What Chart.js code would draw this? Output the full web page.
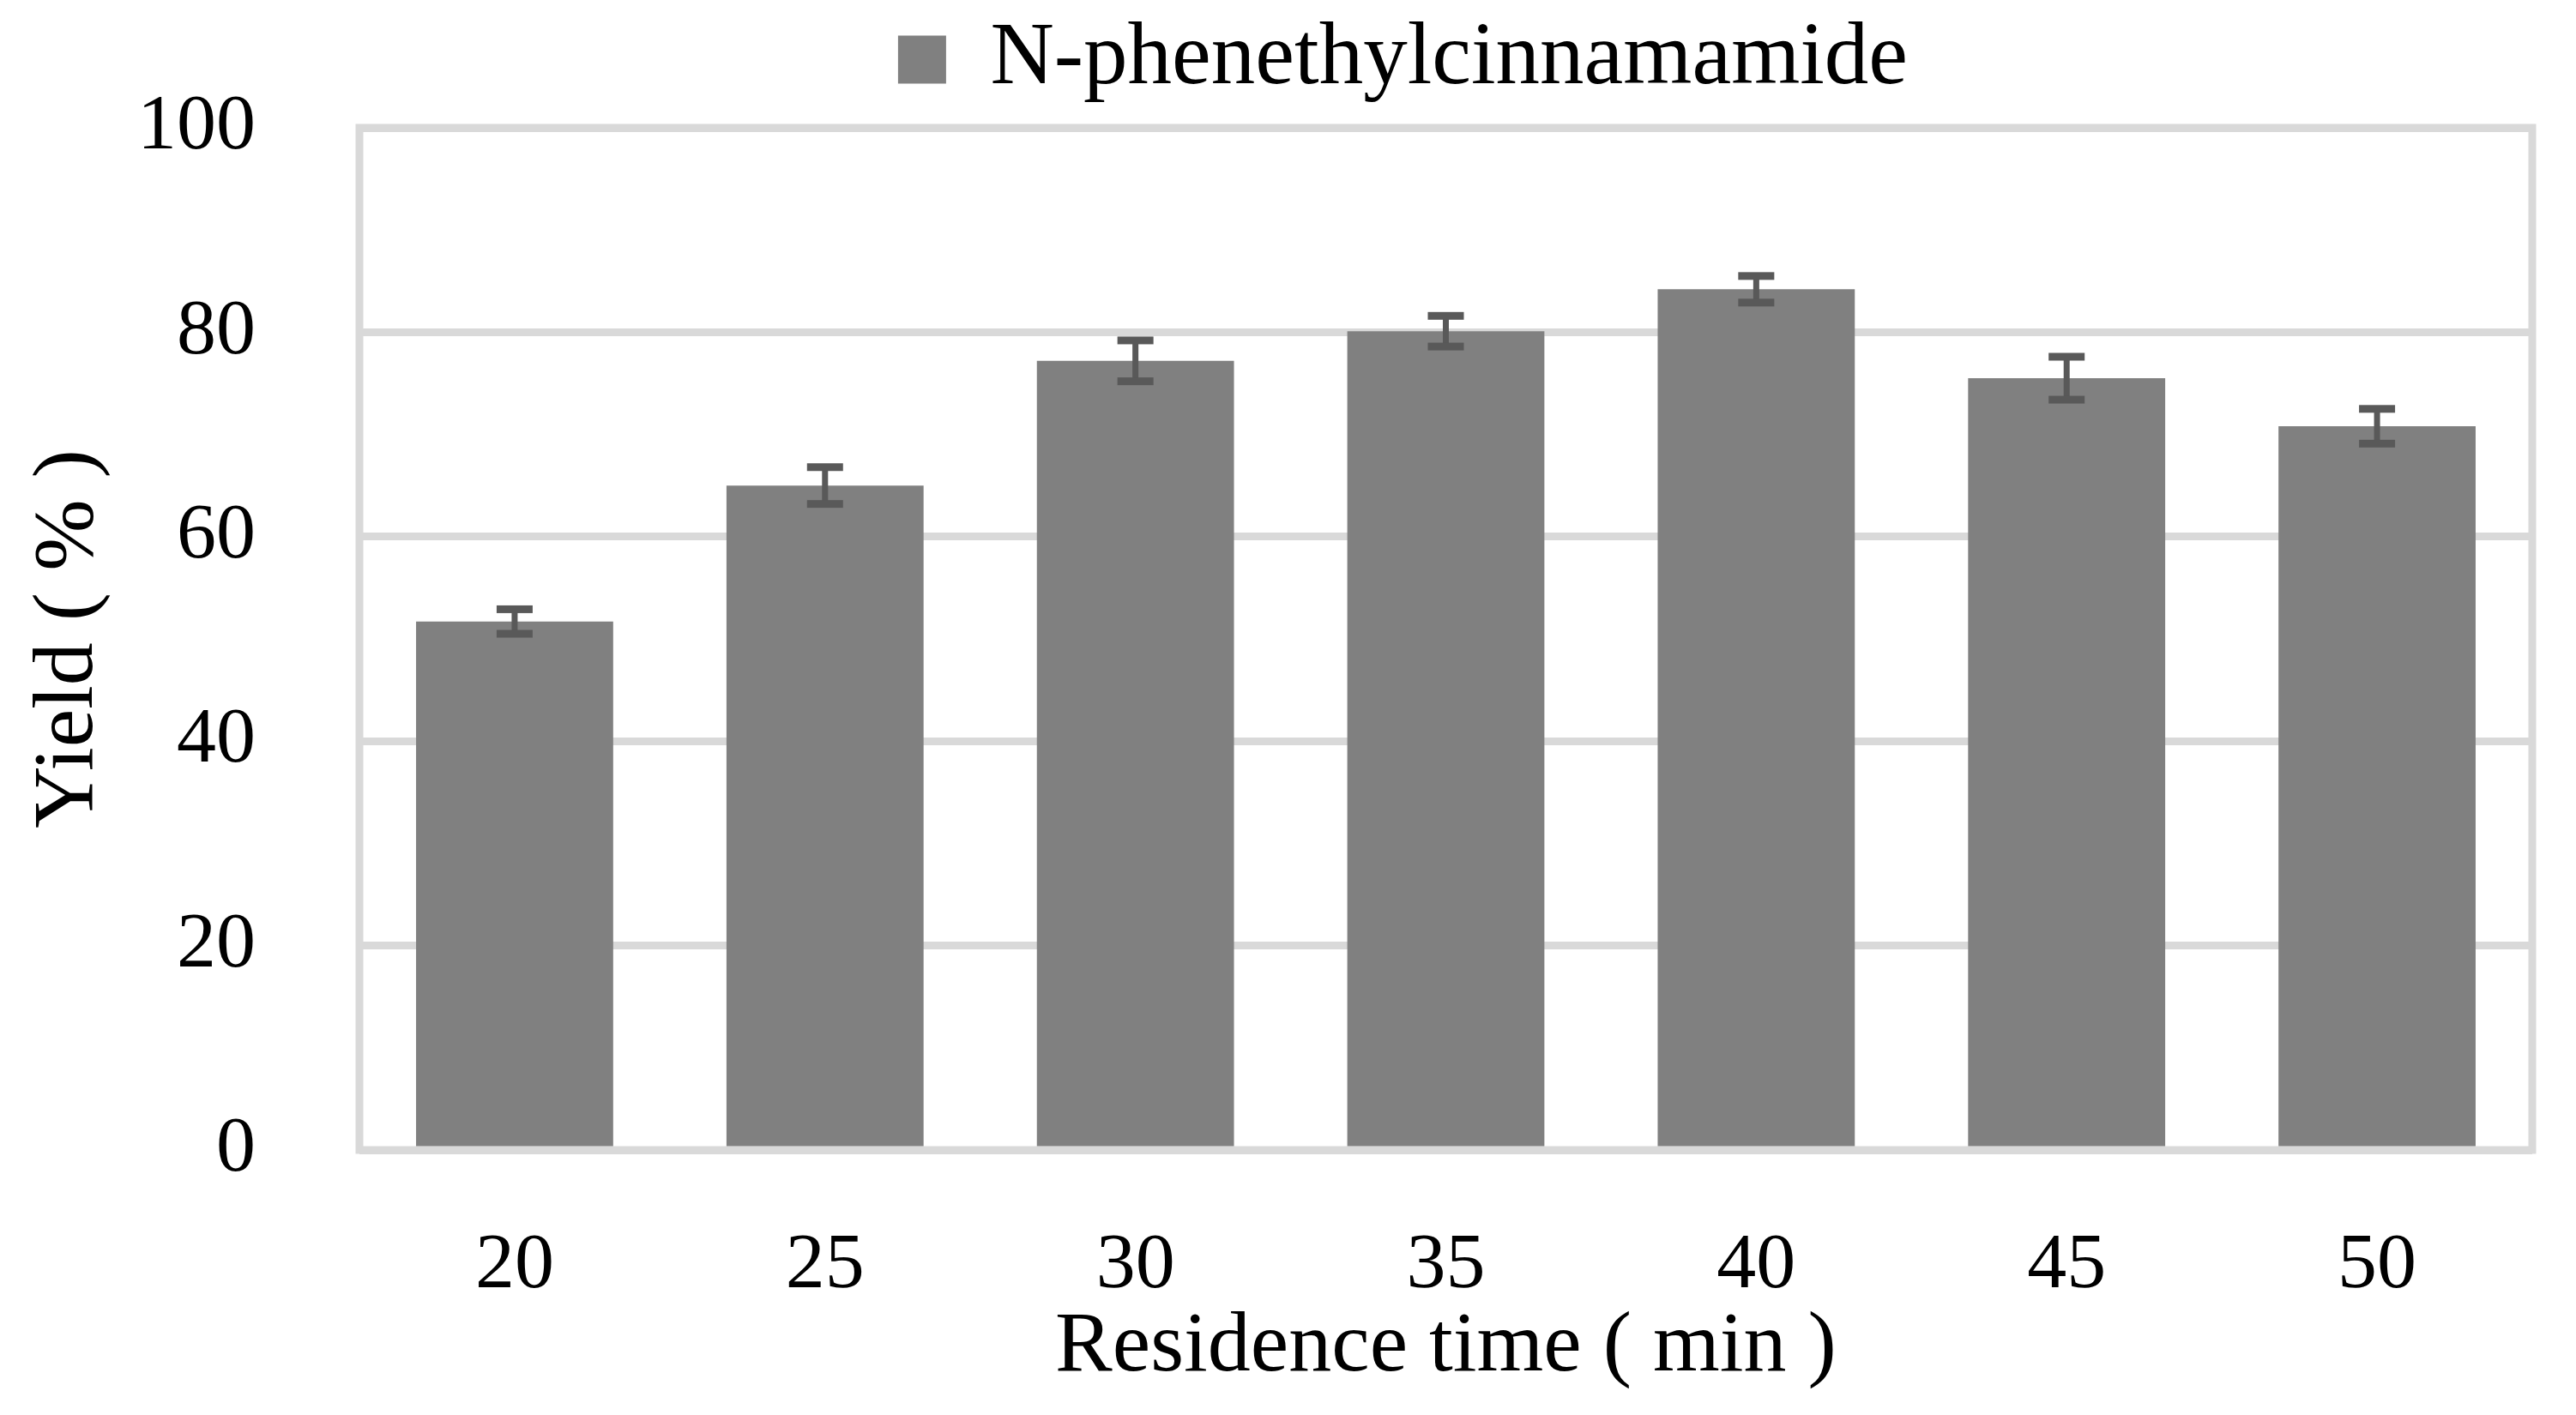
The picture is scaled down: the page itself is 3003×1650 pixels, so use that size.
<!DOCTYPE html>
<html>
<head>
<meta charset="utf-8">
<script src="https://cdn.jsdelivr.net/npm/chart.js@4.4.1/dist/chart.umd.min.js"></script>
<style>
  html, body { margin: 0; padding: 0; background: #fff; }
  canvas { display: block; }
</style>
</head>
<body>
<canvas id="myChart" width="3003" height="1650"></canvas>
<script>
const residenceTimes = ["20", "25", "30", "35", "40", "45", "50"];
const yieldValues = [51.7, 65.0, 77.2, 80.1, 84.2, 75.5, 70.8];
const yieldErrors = [1.2, 1.8, 2.0, 1.5, 1.3, 2.1, 1.7];
const yTicks = [0, 20, 40, 60, 80, 100];

const colors = {
    bar: "#808080",
    error: "#595959",
    grid: "#d9d9d9",
    text: "#000000"
};
const fontFamily = "'Liberation Serif', 'DejaVu Serif', serif";

// error bars drawn on top of the bars, using the y scale
const errorBars = {
    id: "errorBars",
    afterDatasetsDraw(chart) {
        const ctx = chart.ctx;
        const yScale = chart.scales.y;
        const meta = chart.getDatasetMeta(0);
        ctx.save();
        ctx.fillStyle = colors.error;
        meta.data.forEach((bar, i) => {
            const v = yieldValues[i];
            const e = yieldErrors[i];
            const top = yScale.getPixelForValue(v + e);
            const bottom = yScale.getPixelForValue(v - e);
            const capW = 42, capH = 9, stemW = 7;
            ctx.fillRect(bar.x - stemW / 2, top, stemW, bottom - top);
            ctx.fillRect(bar.x - capW / 2, top - capH / 2, capW, capH);
            ctx.fillRect(bar.x - capW / 2, bottom - capH / 2, capW, capH);
        });
        ctx.restore();
    }
};

// grey frame round the plot area
const plotFrame = {
    id: "plotFrame",
    beforeDatasetsDraw(chart) {
        const {ctx, chartArea} = chart;
        ctx.save();
        ctx.strokeStyle = colors.grid;
        ctx.lineWidth = 9;
        ctx.strokeRect(chartArea.left, chartArea.top,
            chartArea.right - chartArea.left, chartArea.bottom - chartArea.top);
        ctx.restore();
    }
};

// keep the legend band a fixed height so the plot starts where it should,
// and nudge it a little to the left like the original
const legendHeight = {
    id: "legendHeight",
    beforeLayout(chart) {
        const legend = chart.legend;
        if (legend && !legend._fixedHeight) {
            const fit = legend.fit;
            legend.fit = function () {
                fit.call(this);
                this.height = 139;
            };
            legend._fixedHeight = true;
        }
    },
    afterLayout(chart) {
        const legend = chart.legend;
        if (legend) {
            legend.left -= 50;
            legend.right -= 50;
        }
    }
};

const data = {
    labels: residenceTimes,
    datasets: [
        {
            label: "N-phenethylcinnamamide",
            data: yieldValues,
            backgroundColor: colors.bar,
            borderWidth: 0,
            barPercentage: 0.635,
            categoryPercentage: 1.0
        }
    ]
};

const config = {
    type: "bar",
    data: data,
    plugins: [legendHeight, plotFrame, errorBars],
    options: {
        responsive: false,
        animation: false,
        devicePixelRatio: 1,
        layout: {
            padding: {top: 10, right: 51, bottom: 0, left: 0}
        },
        plugins: {
            tooltip: {enabled: false},
            legend: {
                display: true,
                position: "top",
                fullSize: false,
                labels: {
                    color: colors.text,
                    font: {family: fontFamily, size: 103},
                    boxWidth: 56,
                    boxHeight: 56,
                    padding: 8
                }
            }
        },
        scales: {
            x: {
                grid: {display: false, drawTicks: false},
                border: {display: false},
                ticks: {
                    color: colors.text,
                    font: {family: fontFamily, size: 92},
                    padding: 81
                },
                title: {
                    display: true,
                    text: "Residence time ( min )",
                    color: colors.text,
                    font: {family: fontFamily, size: 100},
                    padding: {top: 0, bottom: 18}
                },
                afterFit(scale) {
                    scale.height = 309;
                }
            },
            y: {
                min: 0,
                max: 100,
                afterBuildTicks(scale) {
                    scale.ticks = yTicks.map(v => ({value: v}));
                },
                grid: {
                    color: colors.grid,
                    lineWidth: 9,
                    drawTicks: false
                },
                border: {display: false},
                ticks: {
                    color: colors.text,
                    font: {family: fontFamily, size: 92, lineHeight: 0.2},
                    padding: 121
                },
                title: {
                    display: true,
                    text: "Yield ( % )",
                    color: colors.text,
                    font: {family: fontFamily, size: 100},
                    padding: {top: 21, bottom: 0}
                },
                afterFit(scale) {
                    scale.width = 419;
                }
            }
        }
    }
};

const ctx = document.getElementById("myChart").getContext("2d");
const myChart = new Chart(ctx, config);
</script>
</body>
</html>
